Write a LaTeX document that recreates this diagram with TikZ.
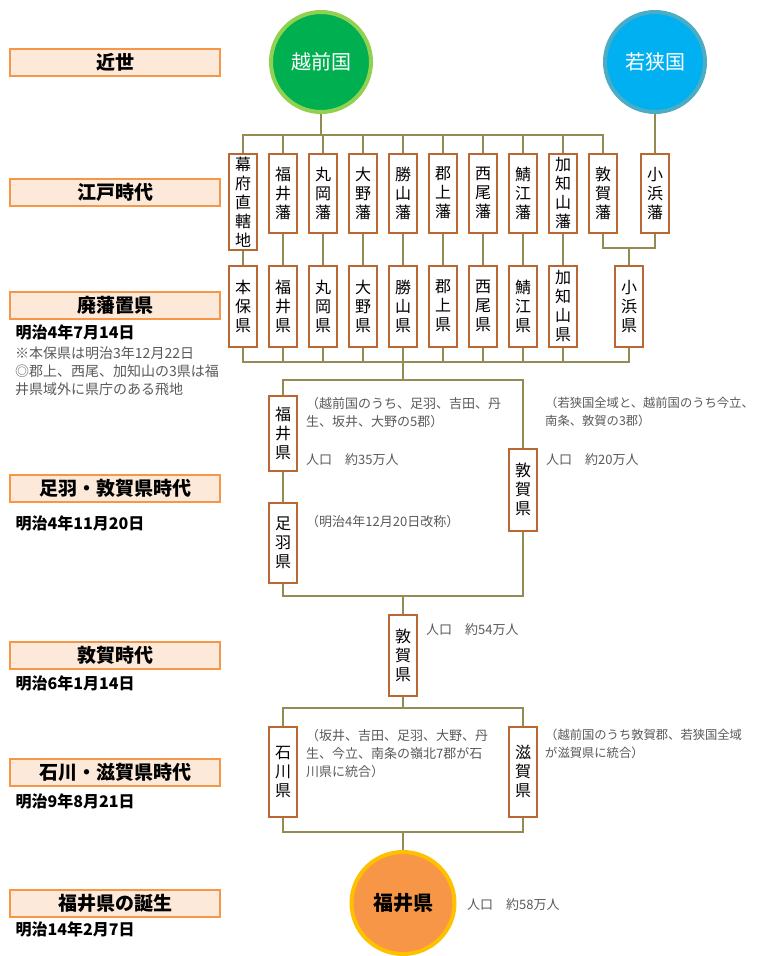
\documentclass[tikz,border=0pt]{standalone}
\usepackage{fontspec}
\setmainfont{Noto Sans CJK JP}
\usetikzlibrary{shapes.geometric}
\definecolor{busline}{HTML}{948A54}
\definecolor{hanedge}{RGB}{184,104,48}
\definecolor{eraedge}{HTML}{F79646}
\definecolor{erafill}{HTML}{FDE9D9}
\definecolor{notegray}{HTML}{595959}
\definecolor{echizenfill}{HTML}{00B050}
\definecolor{echizenedge}{HTML}{92D050}
\definecolor{wakasafill}{HTML}{00B0F0}
\definecolor{wakasaedge}{HTML}{4BACC6}
\definecolor{fukuifill}{HTML}{F79646}
\definecolor{fukuiedge}{HTML}{FFC000}
\tikzset{
  bus/.style={draw=busline, line width=2.5pt},
  han/.style={draw=hanedge, line width=1.5pt, fill=white, minimum width=28pt,
    inner sep=0pt, anchor=north, align=center, font=\fontsize{16}{19}\selectfont},
  era/.style={draw=eraedge, fill=erafill, line width=2pt, minimum width=210pt,
    minimum height=27pt, font=\fontsize{19}{21}\selectfont\bfseries},
  datetext/.style={anchor=west, font=\fontsize{16}{18}\selectfont\bfseries},
  note/.style={anchor=north west, align=left, inner sep=0pt, text=notegray,
    font=\fontsize{13}{18}\selectfont},
  smallnote/.style={note, font=\fontsize{12.3}{18}\selectfont},
  kuni/.style={circle, line width=4pt, minimum size=100pt, text=white,
    font=\fontsize{20}{22}\selectfont},
}

\begin{document}
\begin{tikzpicture}[x=1pt, y=-1pt]
        \useasboundingbox (0,0) rectangle (758,956);

        % eras
        \foreach \n/\y/\t in {1/62/近世, 2/192/江戸時代, 3/305/廃藩置県, 4/488/足羽・敦賀県時代,
                              5/655/敦賀時代, 6/772/石川・滋賀県時代, 7/903/福井県の誕生} {
            \node [era] (era\n) at (115, \y) {\t};
            };
        \foreach \n/\y/\t in {3/332/明治4年7月14日, 4/523/明治4年11月20日, 5/683/明治6年1月14日,
                              6/801/明治9年8月21日, 7/929/明治14年2月7日} {
            \node [datetext] (date\n) at (12, \y) {\t};
            };
        \node [note, font=\fontsize{14}{18}\selectfont] (hainote) at (15, 346) {※本保県は明治3年12月22日\\◎郡上、西尾、加知山の3県は福\\井県域外に県庁のある飛地};

        \node [kuni, fill=echizenfill, draw=echizenedge] (echizen) at (321, 62) {越前国};
        \node [kuni, fill=wakasafill, draw=wakasaedge] (wakasa) at (655, 62) {若狭国};

        % Edo domains
        \foreach \n/\x/\h/\t in {1/243/96/{幕\\府\\直\\轄\\地}, 2/283/79/{福\\井\\藩}, 3/323/79/{丸\\岡\\藩},
                                 4/363/79/{大\\野\\藩}, 5/403/79/{勝\\山\\藩}, 6/443/79/{郡\\上\\藩},
                                 7/483/79/{西\\尾\\藩}, 8/523/79/{鯖\\江\\藩}, 9/563/79/{加\\知\\山\\藩},
                                 10/603/79/{敦\\賀\\藩}, 11/655/79/{小\\浜\\藩}} {
            \node [han, minimum height=\h] (e\n) at (\x, 153) {\t};
            };
        % prefectures of 1871
        \foreach \n/\x/\t in {1/243/{本\\保\\県}, 2/283/{福\\井\\県}, 3/323/{丸\\岡\\県}, 4/363/{大\\野\\県},
                              5/403/{勝\\山\\県}, 6/443/{郡\\上\\県}, 7/483/{西\\尾\\県}, 8/523/{鯖\\江\\県},
                              9/563/{加\\知\\山\\県}, 10/629/{小\\浜\\県}} {
            \node [han, minimum height=81] (h\n) at (\x, 265) {\t};
            };

        \node [han, minimum height=75] (fukuiA) at (283, 395) {福\\井\\県};
        \node [han, minimum height=80] (asuwa) at (283, 502) {足\\羽\\県};
        \node [han, minimum height=82] (tsurugaA) at (523, 448) {敦\\賀\\県};
        \node [han, minimum height=81] (tsurugaB) at (403, 614) {敦\\賀\\県};
        \node [han, minimum height=90] (ishikawa) at (283, 726) {石\\川\\県};
        \node [han, minimum height=90] (shiga) at (523, 726) {滋\\賀\\県};
        \node [ellipse, fill=fukuifill, draw=fukuiedge, line width=4pt, minimum width=103pt,
               minimum height=102pt, font=\fontsize{20}{22}\selectfont\bfseries] (fukuiB) at (403, 903) {福井県};

        % notes beside the boxes
        \node [note] (fukuiAnote) at (306, 397) {（越前国のうち、足羽、吉田、丹\\生、坂井、大野の5郡）};
        \node [note, anchor=west] (fukuiApop) at (306, 460) {人口　約35万人};
        \node [smallnote] (tsurugaAnote) at (545, 397) {（若狭国全域と、越前国のうち今立、\\南条、敦賀の3郡）};
        \node [note, anchor=west] (tsurugaApop) at (546, 460) {人口　約20万人};
        \node [note, anchor=west] (asuwanote) at (306, 522) {（明治4年12月20日改称）};
        \node [note, anchor=west] (tsurugaBpop) at (426, 630) {人口　約54万人};
        \node [note] (ishikawanote) at (306, 729) {（坂井、吉田、足羽、大野、丹\\生、今立、南条の嶺北7郡が石\\川県に統合）};
        \node [smallnote] (shiganote) at (545, 729) {（越前国のうち敦賀郡、若狭国全域\\が滋賀県に統合）};
        \node [note, anchor=west] (fukuiBpop) at (467, 905) {人口　約58万人};

        % lines
        \coordinate (b1) at (321, 135);
        \coordinate (j1) at (629, 248);
        \coordinate (b2) at (403, 362);
        \coordinate (b3) at (403, 380);
        \coordinate (b4) at (403, 596);
        \coordinate (b5) at (403, 708);
        \coordinate (b6) at (403, 832);
        \draw [bus] (echizen) -- (b1);
        \foreach \n in {1,...,10} {
            \draw [bus] (e\n.north) |- (b1);
            };
        \draw [bus] (wakasa) -- (e11);
        \foreach \n in {1,...,9} {
            \draw [bus] (e\n.south) -- (h\n.north);
            };
        \draw [bus] (e10.south) |- (j1);
        \draw [bus] (e11.south) |- (j1);
        \draw [bus] (j1) -- (h10.north);
        \foreach \n in {1,...,10} {
            \draw [bus] (h\n.south) |- (b2);
            };
        \draw [bus] (b2) -- (b3);
        \draw [bus] (b3) -| (fukuiA.north);
        \draw [bus] (b3) -| (tsurugaA.north);
        \draw [bus] (fukuiA) -- (asuwa);
        \draw [bus] (asuwa.south) |- (b4);
        \draw [bus] (tsurugaA.south) |- (b4);
        \draw [bus] (b4) -- (tsurugaB.north);
        \draw [bus] (tsurugaB.south) -- (b5);
        \draw [bus] (b5) -| (ishikawa.north);
        \draw [bus] (b5) -| (shiga.north);
        \draw [bus] (ishikawa.south) |- (b6);
        \draw [bus] (shiga.south) |- (b6);
        \draw [bus] (b6) -- (fukuiB.north);
    \end{tikzpicture}
\end{document}
